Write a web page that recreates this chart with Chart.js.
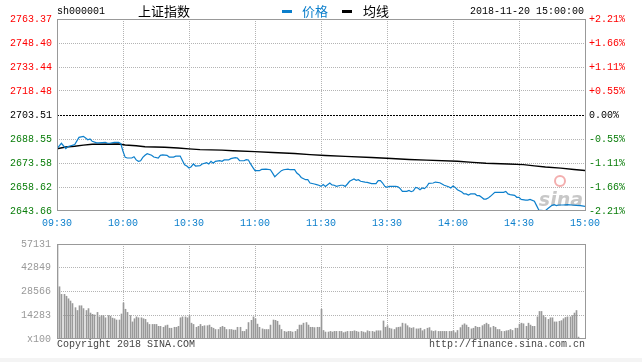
<!DOCTYPE html>
<html>
<head>
<meta charset="utf-8">
<script src="https://cdn.jsdelivr.net/npm/chart.js@4.4.1/dist/chart.umd.min.js"></script>
<style>
  html, body { margin: 0; padding: 0; background: #fff; }
  #wrap { position: relative; width: 642px; height: 362px; overflow: hidden; background: #fff; }
  #wrap canvas { position: absolute; left: 0; }
  .txt { position: absolute; white-space: nowrap; font-family: "Liberation Mono", "DejaVu Sans Mono", monospace; font-size: 10px; line-height: 12px; }
  .cjk { font-family: "Noto Sans CJK SC", sans-serif; font-size: 13px; line-height: 16px; }
  .dash { position: absolute; height: 3px; width: 10px; }
  #strip { position: absolute; left: 0; top: 358px; width: 642px; height: 4px; background: #f4f4f4; }
</style>
</head>
<body>
<div id="wrap">
  <canvas id="price" width="642" height="232" style="top:0"></canvas>
  <canvas id="volume" width="642" height="130" style="top:232px"></canvas>
  <span class="txt" style="left:57px; top:6px; color:#000;">sh000001</span>
  <span class="txt cjk" style="left:138px; top:3px; color:#000;">上证指数</span>
  <div class="dash" style="left:282px; top:10px; background:#0c7fcc;"></div>
  <span class="txt cjk" style="left:302px; top:3px; color:#0c7fcc;">价格</span>
  <div class="dash" style="left:342px; top:10px; background:#000;"></div>
  <span class="txt cjk" style="left:363px; top:3px; color:#000;">均线</span>
  <span class="txt" style="right:58px; top:6px; color:#000;">2018-11-20 15:00:00</span>
  <span class="txt" style="left:57px; top:339px; color:#444;">Copyright 2018 SINA.COM</span>
  <span class="txt" style="right:57px; top:339px; color:#444;">http://finance.sina.com.cn</span>
  <div id="strip"></div>
</div>
<script>
const BLUE = '#0c7fcc';
const RED = '#f00';
const GREEN = '#0a7d0a';
const GRID = '#b4b4b4';
const FRAME = '#999';
const MONO = '"Liberation Mono", "DejaVu Sans Mono", monospace';

// minute index: 0 = 09:30, 120 = 11:30/13:00, 240 = 15:00
const timePositions = [0, 30, 60, 90, 120, 150, 180, 210, 240];
const timeLabels = ['09:30', '10:00', '10:30', '11:00', '11:30', '13:30', '14:00', '14:30', '15:00'];

const prevClose = 2703.51;
const priceTicks = [2643.66, 2658.62, 2673.58, 2688.55, 2703.51, 2718.48, 2733.44, 2748.40, 2763.37];
const pctTicks = ['-2.21%', '-1.66%', '-1.11%', '-0.55%', '0.00%', '+0.55%', '+1.11%', '+1.66%', '+2.21%'];

const priceMinutes = [0,2,4,5,6,8,10,12,13,14,15,16,18,19,22,23,24,26,28,29,30,31,32,34,35,36,37,38,39,
  40,41,43,44,46,47,48,50,51,53,54,56,57,58,59,60,61,62,63,65,66,68,69,70,71,72,74,75,76,78,79,81,
  82,83,85,86,87,88,89,90,92,93,95,97,98,99,100,102,103,105,106,108,109,110,111,113,114,115,117,118,119,120,
  121,122,124,125,126,127,129,130,131,132,133,135,136,137,138,140,141,143,145,146,147,148,149,150,151,154,155,156,157,159,160,161,162,163,
  164,165,166,167,168,169,171,172,174,175,176,178,179,180,181,182,184,185,186,187,188,190,191,192,193,194,195,196,197,199,201,203,
  204,205,206,208,209,210,211,213,214,215,217,218,219,221,222,223,225,226,227,228,230,232,234,236,238,240];
const priceValues = [2682.5,2685.9,2682.5,2683.8,2684.2,2685.0,2689.6,2690.2,2689.2,2688.1,2688.6,2687.1,2686.1,2686.1,2686.5,2685.9,2685.9,2686.5,2686.5,2685.6,2680.9,2677.1,2676.7,2676.7,2677.5,2675.5,2674.6,2675.0,2677.1,
  2678.4,2679.4,2678.4,2677.3,2676.7,2678.4,2678.6,2678.4,2677.3,2677.3,2677.9,2677.9,2675.2,2672.5,2671.7,2670.5,2671.3,2673.0,2671.7,2671.9,2673.0,2673.8,2673.0,2674.6,2673.4,2674.6,2675.0,2674.6,2675.5,2675.5,2676.3,2676.9,
  2676.7,2675.0,2675.0,2675.7,2675.5,2673.0,2670.9,2668.8,2668.8,2669.6,2669.8,2669.4,2667.3,2665.0,2666.3,2668.8,2669.4,2669.8,2669.4,2669.4,2667.3,2666.3,2664.6,2663.2,2663.2,2661.1,2660.5,2660.1,2659.7,2659.0,
  2660.1,2659.0,2661.1,2659.9,2659.7,2659.0,2659.7,2659.7,2659.0,2660.5,2662.2,2663.6,2662.8,2663.2,2662.2,2661.7,2661.5,2660.7,2660.7,2662.6,2662.6,2661.1,2659.0,2658.4,2659.0,2659.0,2658.8,2657.6,2655.9,2655.9,2656.5,2655.7,2656.3,2658.4,
  2658.0,2656.9,2658.0,2657.6,2658.8,2660.9,2661.1,2661.7,2661.3,2660.5,2659.7,2658.8,2658.0,2659.2,2658.4,2656.9,2655.5,2654.3,2654.3,2653.6,2654.3,2654.3,2653.2,2653.2,2652.2,2651.1,2651.1,2651.7,2652.8,2655.3,2655.3,2655.3,
  2655.9,2654.3,2653.9,2653.4,2652.2,2652.2,2650.9,2650.5,2650.5,2650.9,2649.7,2647.0,2644.3,2643.9,2643.9,2645.1,2647.2,2647.6,2647.0,2647.4,2647.4,2647.6,2647.4,2647.2,2647.0,2646.6];

const avgMinutes = [0,4,8,12,16,28,31,36,40,49,55,60,65,75,80,90,98,108,115,122,131,143,152,160,168,182,189,195,205,212,217,222,229,235,240];
const avgValues = [2682.5,2683.6,2684.0,2684.7,2685.3,2685.4,2684.8,2684.3,2683.7,2683.4,2682.9,2682.4,2681.9,2681.6,2681.2,2680.7,2680.1,2679.5,2678.8,2678.3,2677.7,2677.0,2676.4,2675.8,2675.4,2674.7,2674.0,2673.4,2673.0,2672.6,2671.8,2671.1,2670.4,2669.5,2668.9];

const volTicks = [0, 14283, 28566, 42849, 57131];
// volume per minute (units of 100 lots)
const volMorning = [ // 09:30 .. 11:29
  57131,31416,26846,26846,25704,24181,22848,21325,18850,17136,
  19992,19992,18278,17136,18278,15613,14851,14470,15994,13328,
  14090,14090,12757,14090,13709,12566,12186,11424,11424,15042,
  21706,17898,15994,14090,10282,12186,13328,12757,12757,12186,
  11805,9901,8758,8758,8758,8758,7616,7616,7045,7997,
  8378,6474,6474,7045,7045,7616,12757,13328,13328,12757,
  14090,9520,8758,7045,7616,8758,7616,7997,7997,8378,
  7045,6474,5712,5712,7045,7616,7045,5712,5712,5712,
  5331,5331,7045,7045,4570,4570,5712,9901,11234,13328,
  12186,8949,7045,6093,5712,5712,5712,8378,11424,11234,
  10662,8378,5712,4570,4189,4570,4570,4189,4570,5712,
  8378,8378,9520,9901,8378,7045,7045,6854,7045,7045
];
const volAfternoon = [ // 13:00 .. 15:00
  17898,5141,4189,4189,4570,4189,4570,4570,4570,4570,
  3808,4189,4570,4570,4570,4950,4570,4189,4570,4189,
  3808,4950,4570,4570,4189,4950,4950,4950,10853,7045,
  7997,6474,6093,5712,6854,7045,7235,9520,9139,7997,
  6854,6474,6854,6093,6093,6474,4950,5712,6474,6854,
  4950,4570,4950,4570,4570,4570,4570,4570,4570,4570,
  4950,3808,5141,6854,8378,9139,8378,7045,6093,6474,
  7616,7045,7045,7997,8758,9520,8758,6854,7616,7045,
  5712,5712,4570,4570,4950,5141,5712,5141,6474,6474,
  8949,9520,9139,7616,9520,8378,7616,7616,13328,16565,
  16565,14090,12947,11805,12757,12757,10282,10282,10662,11043,
  12186,12947,13328,13328,14090,15613,17136,1142,0,0,0
];
const volumes = volMorning.concat(volAfternoon);

const frame = {
  id: 'frame',
  afterDatasetsDraw(chart) {
    const a = chart.chartArea, c = chart.ctx;
    c.save();
    c.strokeStyle = FRAME;
    c.lineWidth = 1;
    c.strokeRect(a.left + 0.5, a.top + 0.5, a.right - a.left, a.bottom - a.top - 1);
    c.restore();
  }
};

const baseLine = {
  id: 'baseLine',
  beforeDatasetsDraw(chart) {
    const a = chart.chartArea, c = chart.ctx;
    const y = Math.round(chart.scales.y.getPixelForValue(prevClose)) + 0.5;
    c.save();
    c.strokeStyle = '#000';
    c.lineWidth = 1;
    c.setLineDash([2, 1]);
    c.beginPath();
    c.moveTo(a.left, y);
    c.lineTo(a.right, y);
    c.stroke();
    // watermark
    c.setLineDash([]);
    c.fillStyle = 'rgba(180,180,180,0.75)';
    c.font = 'italic bold 19px "DejaVu Sans", sans-serif';
    c.textAlign = 'right';
    c.textBaseline = 'alphabetic';
    c.fillText('sina', a.right - 2, a.bottom - 5);
    c.strokeStyle = 'rgba(235,120,120,0.6)';
    c.lineWidth = 2;
    c.beginPath();
    c.arc(a.right - 25, a.bottom - 30, 5, 0, Math.PI * 2);
    c.stroke();
    c.restore();
  }
};

// snap 1px bars onto whole pixel columns so they stay sharp
const crispBars = {
  id: 'crispBars',
  afterDatasetsUpdate(chart) {
    chart.getDatasetMeta(0).data.forEach(bar => { bar.x = Math.round(bar.x) + 0.5; });
  }
};

const tickFont = { family: MONO, size: 10 };
const colorFor = i => (i < 4 ? GREEN : i === 4 ? '#000' : RED);

new Chart(document.getElementById('price'), {
  type: 'line',
  data: {
    datasets: [
      {
        label: '价格',
        data: priceMinutes.map((m, i) => ({ x: m, y: priceValues[i] })),
        borderColor: BLUE,
        borderWidth: 1.2,
        pointRadius: 0,
        tension: 0,
        order: 1
      },
      {
        label: '均线',
        data: avgMinutes.map((m, i) => ({ x: m, y: avgValues[i] })),
        borderColor: '#000',
        borderWidth: 1.4,
        pointRadius: 0,
        tension: 0,
        order: 2
      }
    ]
  },
  options: {
    responsive: false,
    animation: false,
    events: [],
    layout: { padding: { top: 19, left: 0, right: 0, bottom: 0 } },
    plugins: { legend: { display: false }, tooltip: { enabled: false } },
    scales: {
      x: {
        type: 'linear',
        min: 0,
        max: 240,
        afterBuildTicks: axis => { axis.ticks = timePositions.map(v => ({ value: v })); },
        afterFit: axis => { axis.height = 21; },
        ticks: {
          autoSkip: false,
          maxRotation: 0,
          color: BLUE,
          font: tickFont,
          padding: 6,
          callback: (v, i) => timeLabels[i]
        },
        grid: {
          drawTicks: false,
          color: ctx => (ctx.index === 0 || ctx.index === timePositions.length - 1 ? 'rgba(0,0,0,0)' : GRID)
        },
        border: { display: false, dash: [1, 1] }
      },
      y: {
        position: 'left',
        min: priceTicks[0],
        max: priceTicks[priceTicks.length - 1],
        afterBuildTicks: axis => { axis.ticks = priceTicks.map(v => ({ value: v })); },
        afterFit: axis => { axis.width = 57; },
        ticks: {
          color: ctx => colorFor(ctx.index),
          font: tickFont,
          padding: 5,
          callback: (v, i) => priceTicks[i].toFixed(2)
        },
        grid: {
          drawTicks: false,
          color: ctx => (ctx.index === 0 || ctx.index === 4 || ctx.index === priceTicks.length - 1 ? 'rgba(0,0,0,0)' : GRID)
        },
        border: { display: false, dash: [1, 1] }
      },
      y2: {
        position: 'right',
        min: priceTicks[0],
        max: priceTicks[priceTicks.length - 1],
        afterBuildTicks: axis => { axis.ticks = priceTicks.map(v => ({ value: v })); },
        afterFit: axis => { axis.width = 57; },
        ticks: {
          color: ctx => colorFor(ctx.index),
          font: tickFont,
          padding: 4,
          callback: (v, i) => pctTicks[i]
        },
        grid: { display: false, drawTicks: false },
        border: { display: false }
      }
    }
  },
  plugins: [baseLine, frame]
});

new Chart(document.getElementById('volume'), {
  type: 'bar',
  data: {
    datasets: [{
      label: 'volume',
      data: volumes.map((v, i) => ({ x: i, y: v })),
      backgroundColor: '#999',
      borderWidth: 0,
      barThickness: 1
    }]
  },
  options: {
    responsive: false,
    animation: false,
    events: [],
    layout: { padding: { top: 7, left: 0, right: 57, bottom: 23 } },
    plugins: { legend: { display: false }, tooltip: { enabled: false } },
    scales: {
      x: {
        type: 'linear',
        min: 0,
        max: 240,
        offset: false,
        afterBuildTicks: axis => { axis.ticks = timePositions.map(v => ({ value: v })); },
        afterFit: axis => { axis.height = 0; },
        ticks: { display: false },
        grid: {
          offset: false,
          drawTicks: false,
          color: ctx => (ctx.index === 0 || ctx.index === timePositions.length - 1 ? 'rgba(0,0,0,0)' : GRID)
        },
        border: { display: false, dash: [1, 1] }
      },
      y: {
        position: 'left',
        min: 0,
        max: volTicks[volTicks.length - 1],
        afterBuildTicks: axis => { axis.ticks = volTicks.map(v => ({ value: v })); },
        afterFit: axis => { axis.width = 57; },
        ticks: {
          color: '#999',
          font: tickFont,
          padding: 6,
          callback: (v, i) => (i === 0 ? 'x100' : String(volTicks[i]))
        },
        grid: {
          drawTicks: false,
          color: ctx => (ctx.index === 0 || ctx.index === volTicks.length - 1 ? 'rgba(0,0,0,0)' : GRID)
        },
        border: { display: false, dash: [1, 1] }
      }
    }
  },
  plugins: [crispBars, frame]
});
</script>
</body>
</html>
